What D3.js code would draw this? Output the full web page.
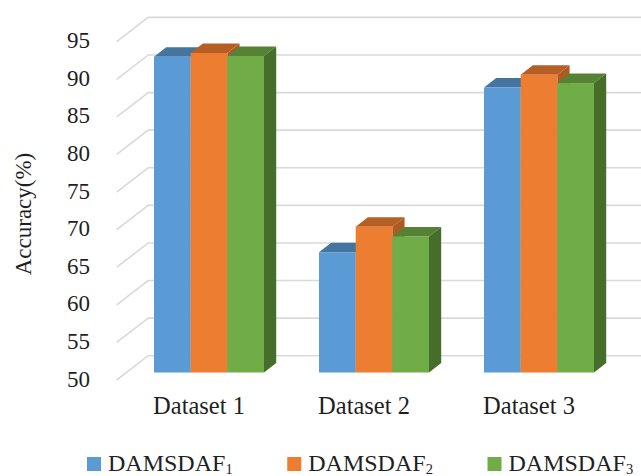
<!DOCTYPE html>
<html>
<head>
<meta charset="utf-8">
<script src="https://cdnjs.cloudflare.com/ajax/libs/d3/7.8.5/d3.min.js"></script>
<style>
  html, body { margin: 0; padding: 0; background: #fff; }
  svg { display: block; }
  text { font-family: "Liberation Serif", serif; fill: #1f1f1f; }
</style>
</head>
<body>
<svg id="chart" width="641" height="476"></svg>
<script>
const categories = ["Dataset 1", "Dataset 2", "Dataset 3"];
const seriesNames = ["DAMSDAF", "DAMSDAF", "DAMSDAF"];
const seriesSubscripts = ["1", "2", "3"];
const damsdaf1 = [92.0, 66.0, 87.9];
const damsdaf2 = [92.5, 69.4, 89.6];
const damsdaf3 = [92.1, 68.1, 88.5];
const yTicks = [50, 55, 60, 65, 70, 75, 80, 85, 90, 95];

const frontColors = ["#5b9bd5", "#ed7d31", "#70ad47"];
const topColors = ["#44759f", "#b65f24", "#558235"];
const sideColors = ["#3f6a92", "#ae5a22", "#476d2b"];

const svg = d3.select("#chart");

// Oblique projection: the wall sits behind the front plane, the bars in between.
const wall = { dx: 31.5, dy: 24.3 };
const barFront = { dy: 7.5 };
const barDepth = { dx: 12.2, dy: 9.5 };

const y = d3.scaleLinear().domain([50, 95]).range([380, 41.7]);
const x0 = d3.scaleBand().domain(categories).range([126.5, 621.5]).paddingInner(0).paddingOuter(0);
const groupWidth = 110;
const x1 = d3.scaleBand().domain([0, 1, 2]).range([0, groupWidth]);
const groupOffset = (x0.bandwidth() - groupWidth) / 2;

const frontLeft = 116.7;
const rightEdge = 660;

// Gridlines on the back wall with their receding segments on the side wall
const grid = svg.append("g").attr("fill", "none").attr("stroke", "#d9d9d9").attr("stroke-width", 1.6);
grid.selectAll("path").data(yTicks).join("path")
  .attr("d", d => {
    const p = d3.path();
    p.moveTo(frontLeft, y(d));
    p.lineTo(frontLeft + wall.dx, y(d) - wall.dy);
    p.lineTo(rightEdge, y(d) - wall.dy);
    return p.toString();
  });

// Value axis labels
svg.append("g").selectAll("text").data(yTicks).join("text")
  .attr("x", 90)
  .attr("y", d => y(d) - 1)
  .attr("dy", "0.33em")
  .attr("text-anchor", "end")
  .attr("font-size", 23)
  .text(d => d);

svg.append("text")
  .attr("transform", "translate(31,214) rotate(-90)")
  .attr("text-anchor", "middle")
  .attr("font-size", 23)
  .text("Accuracy(%)");

// Bars: each one is a top face, a side face and a front face
const allSeries = [damsdaf1, damsdaf2, damsdaf3];
const groups = svg.append("g").selectAll("g").data(categories).join("g")
  .attr("transform", d => `translate(${x0(d) + groupOffset},0)`);

groups.each(function (cat, ci) {
  const g = d3.select(this);
  allSeries.forEach((vals, si) => {
    const left = x1(si);
    const right = left + x1.bandwidth();
    const topY = y(vals[ci]) - barFront.dy;
    const baseY = y(50) - barFront.dy;
    const { dx, dy } = barDepth;
    g.append("polygon")
      .attr("fill", topColors[si])
      .attr("points", [[left, topY], [left + dx, topY - dy], [right + dx, topY - dy], [right, topY]].join(" "));
    g.append("polygon")
      .attr("fill", sideColors[si])
      .attr("points", [[right, topY], [right + dx, topY - dy], [right + dx, baseY - dy], [right, baseY]].join(" "));
    g.append("rect")
      .attr("x", left).attr("y", topY)
      .attr("width", x1.bandwidth()).attr("height", baseY - topY)
      .attr("fill", frontColors[si]);
  });
});

// Category labels sit on the front plane, left of the bar centres
svg.append("g").selectAll("text").data(categories).join("text")
  .attr("x", d => x0(d) + x0.bandwidth() / 2 - 10)
  .attr("y", 414)
  .attr("text-anchor", "middle")
  .attr("font-size", 24.5)
  .text(d => d);

// Legend
const legendX = d3.scalePoint().domain([0, 1, 2]).range([87, 487.5]);
const legend = svg.append("g").selectAll("g").data(seriesNames).join("g")
  .attr("transform", (d, i) => `translate(${legendX(i)},0)`);
legend.append("rect")
  .attr("x", 0).attr("y", 457)
  .attr("width", 14).attr("height", 14)
  .attr("fill", (d, i) => frontColors[i]);
const legendText = legend.append("text")
  .attr("x", 21).attr("y", 471)
  .attr("font-size", 24);
legendText.append("tspan").text(d => d);
legendText.append("tspan")
  .attr("font-size", 14.5)
  .attr("dy", 2.5)
  .text((d, i) => seriesSubscripts[i]);
</script>
</body>
</html>
